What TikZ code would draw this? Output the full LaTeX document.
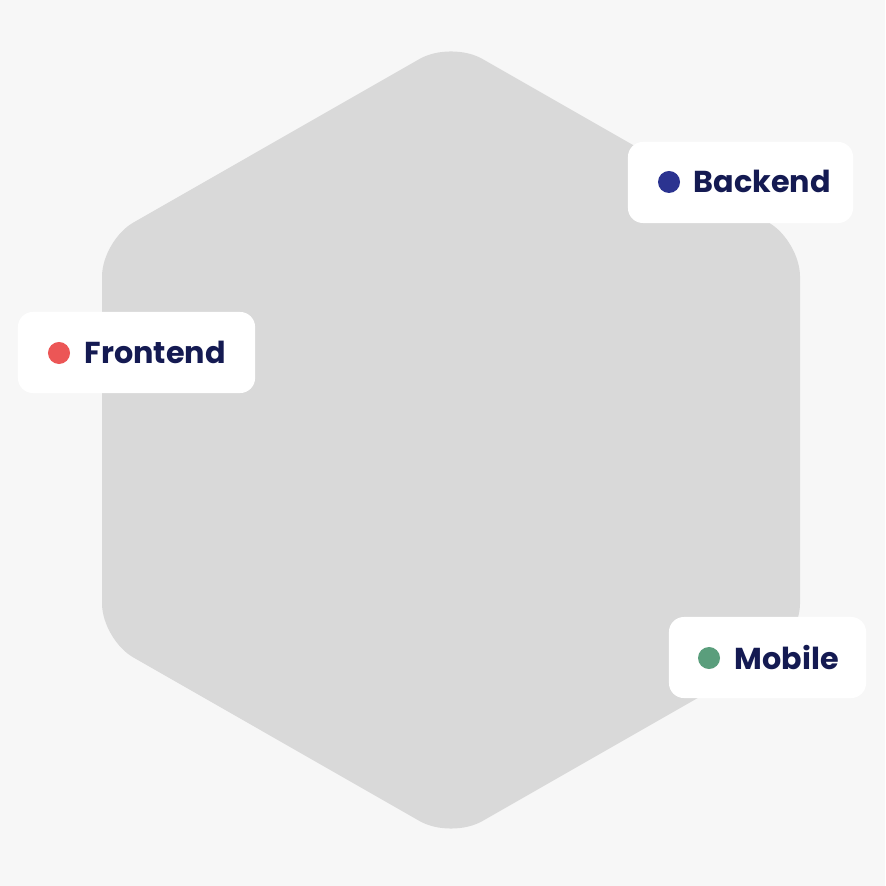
\documentclass[tikz,border=0pt]{standalone}
\usepackage{fontspec}
\setmainfont{Poppins}
\definecolor{pagebg}{HTML}{F7F7F7}
\definecolor{hexgray}{HTML}{D9D9D9}
\definecolor{navy}{HTML}{141A52}
\definecolor{dotblue}{HTML}{2B3390}
\definecolor{dotred}{HTML}{EC5656}
\definecolor{dotgreen}{HTML}{5A9E7C}

\begin{document}
\begin{tikzpicture}[x=0.01cm,y=-0.01cm,
        tagbox/.style={fill=white, rounded corners=0.15cm, minimum height=0.81cm, inner sep=0pt},
        tagdot/.style={circle, inner sep=0pt, minimum size=0.22cm},
        tagtext/.style={anchor=base west, inner sep=0pt, text=navy, font=\fontsize{8.6pt}{10pt}\selectfont\bfseries}]
        \fill[pagebg] (0,0) rectangle (885,886);
        \useasboundingbox (0,0) rectangle (885,886);
        % hexagon
        \fill[hexgray, rounded corners=0.36cm] (451,41) -- (800,240.5) -- (800,639.5) -- (451,839) -- (102,639.5) -- (102,240.5) -- cycle;
        % tags
        \node[tagbox, minimum width=2.25cm] (backend) at (740.5,182.5) {};
        \node[tagdot, fill=dotblue] (backend-dot) at (669,182) {};
        \node[tagtext] (backend-text) at (693,193) {Backend};
        \node[tagbox, minimum width=2.37cm] (frontend) at (136.5,352.5) {};
        \node[tagdot, fill=dotred] (frontend-dot) at (59,353) {};
        \node[tagtext] (frontend-text) at (84,364) {Frontend};
        \node[tagbox, minimum width=1.97cm] (mobile) at (767.5,657.5) {};
        \node[tagdot, fill=dotgreen] (mobile-dot) at (709,658) {};
        \node[tagtext] (mobile-text) at (734,669) {Mobile};
\end{tikzpicture}
\end{document}
